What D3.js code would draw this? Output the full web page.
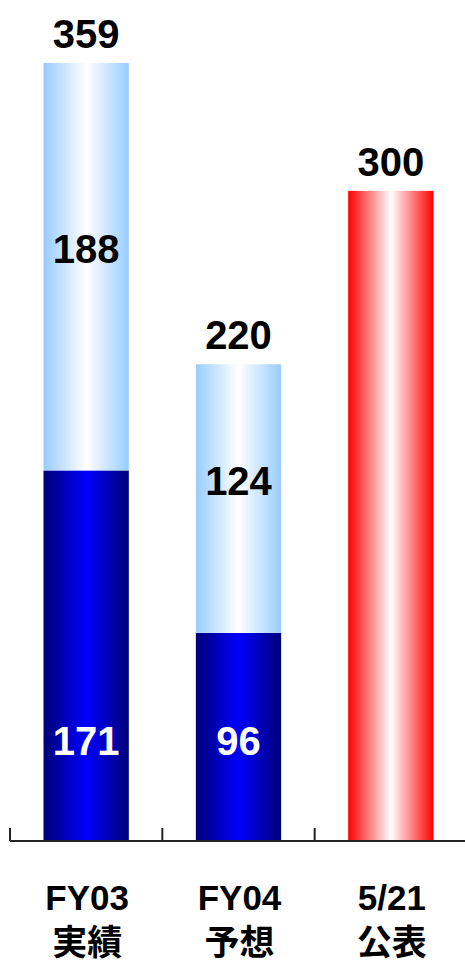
<!DOCTYPE html>
<html>
<head>
<meta charset="utf-8">
<script src="https://cdn.jsdelivr.net/npm/d3@7"></script>
<style>
  html, body { margin: 0; padding: 0; background: #fff; }
  svg { display: block; }
  text { font-family: "Liberation Sans", Arial, "Noto Sans CJK JP", sans-serif; font-weight: bold; }
</style>
</head>
<body>
<svg id="chart" width="465" height="967"></svg>
<script>
// Categories (two-line labels) and stacked values
const categories = ["FY03", "FY04", "5/21"];
const categorySub = ["実績", "予想", "公表"];
const lowerValues = [171, 96, null];   // dark blue segment
const upperValues = [188, 124, null];  // light blue segment
const singleValues = [null, null, 300]; // red bar
const totals = [359, 220, 300];

const W = 465, H = 967;
const baseY = 841;
const svg = d3.select("#chart");

const x = d3.scaleBand().domain(categories).range([10, 467]).padding(0);
const barW = x.bandwidth() * 0.56;
const y = d3.scaleLinear().domain([0, d3.max(totals)]).range([baseY, 63]);

// Horizontal gradients for the bars
const defs = svg.append("defs");
function grad(id, edge, mid) {
  const g = defs.append("linearGradient").attr("id", id)
    .attr("x1", "0%").attr("x2", "100%").attr("y1", "0%").attr("y2", "0%");
  g.append("stop").attr("offset", "0%").attr("stop-color", edge);
  g.append("stop").attr("offset", "50%").attr("stop-color", mid);
  g.append("stop").attr("offset", "100%").attr("stop-color", edge);
}
grad("gDark", "#000078", "#0000ff");
grad("gLight", "#99ccff", "#ffffff");
grad("gRed", "#ff0000", "#ffffff");

const bx = c => x(c) + (x.bandwidth() - barW) / 2;
const cx = c => x(c) + x.bandwidth() / 2;

const rows = categories.map((c, i) => ({
  c, lower: lowerValues[i], upper: upperValues[i], single: singleValues[i], total: totals[i]
}));

const g = svg.append("g");

// Lower (dark) segments
g.selectAll("rect.lower").data(rows.filter(d => d.lower != null)).join("rect")
  .attr("class", "lower")
  .attr("x", d => bx(d.c)).attr("width", barW)
  .attr("y", d => y(d.lower)).attr("height", d => baseY - y(d.lower))
  .attr("fill", "url(#gDark)");

// Upper (light) segments
g.selectAll("rect.upper").data(rows.filter(d => d.upper != null)).join("rect")
  .attr("class", "upper")
  .attr("x", d => bx(d.c)).attr("width", barW)
  .attr("y", d => y(d.lower + d.upper)).attr("height", d => y(d.lower) - y(d.lower + d.upper))
  .attr("fill", "url(#gLight)");

// Single red bar
g.selectAll("rect.single").data(rows.filter(d => d.single != null)).join("rect")
  .attr("class", "single")
  .attr("x", d => bx(d.c)).attr("width", barW)
  .attr("y", d => y(d.single)).attr("height", d => baseY - y(d.single))
  .attr("fill", "url(#gRed)");

// Axis baseline and upward ticks at band edges
svg.append("line").attr("x1", 10).attr("x2", W).attr("y1", baseY).attr("y2", baseY)
  .attr("stroke", "#222").attr("stroke-width", 2);
svg.selectAll("line.tick").data(categories).join("line")
  .attr("class", "tick")
  .attr("x1", d => x(d)).attr("x2", d => x(d))
  .attr("y1", baseY).attr("y2", baseY - 13)
  .attr("stroke", "#222").attr("stroke-width", 2);

// Value labels
const fs = 40;
g.selectAll("text.total").data(rows).join("text")
  .attr("class", "total")
  .attr("x", d => cx(d.c)).attr("y", d => y(d.total) - 15)
  .attr("text-anchor", "middle").attr("font-size", fs).attr("fill", "#000")
  .text(d => d.total);

g.selectAll("text.upperLbl").data(rows.filter(d => d.upper != null)).join("text")
  .attr("class", "upperLbl")
  .attr("x", d => cx(d.c))
  .attr("y", d => (y(d.lower) + y(d.lower + d.upper)) / 2 - 4)
  .attr("text-anchor", "middle").attr("font-size", fs).attr("fill", "#000")
  .text(d => d.upper);

g.selectAll("text.lowerLbl").data(rows.filter(d => d.lower != null)).join("text")
  .attr("class", "lowerLbl")
  .attr("x", d => cx(d.c)).attr("y", baseY - 86)
  .attr("text-anchor", "middle").attr("font-size", fs).attr("fill", "#fff")
  .text(d => d.lower);

// Category labels
const cat = svg.selectAll("g.cat").data(categories).join("g").attr("class", "cat");
cat.append("text").attr("x", d => cx(d) + 1).attr("y", 910)
  .attr("text-anchor", "middle").attr("font-size", 35).attr("fill", "#000")
  .text(d => d);
cat.append("text").attr("x", d => cx(d) + 1).attr("y", 955)
  .attr("text-anchor", "middle").attr("font-size", 35).attr("fill", "#000")
  .style("font-family", "'Noto Sans CJK JP', sans-serif")
  .text((d, i) => categorySub[i]);
</script>
</body>
</html>
